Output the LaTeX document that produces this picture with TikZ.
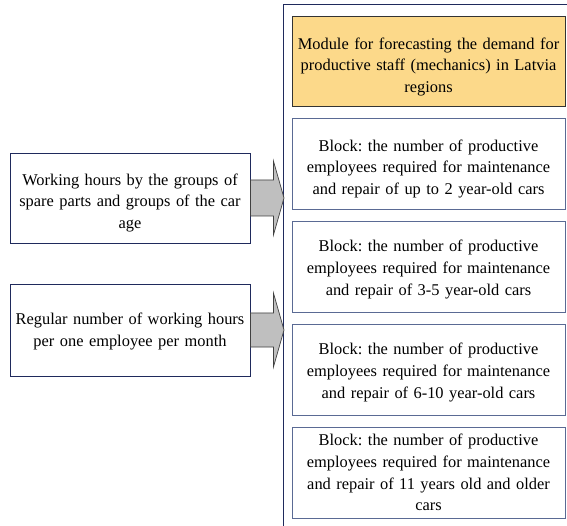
\documentclass[tikz,border=0pt]{standalone}
\usepackage{fontspec}
\setmainfont{Liberation Serif}
\usetikzlibrary{calc}
\definecolor{navy}{HTML}{1F2A5C}
\definecolor{blockedge}{HTML}{5A6A94}
\definecolor{modfill}{HTML}{FCD98A}
\definecolor{arrowgray}{HTML}{BFBFBF}
\tikzset{
  txt/.style={font=\fontsize{16.4}{21.8}\selectfont\frenchspacing, align=center},
  % push the text #1 below the geometric centre of its box
  lowtext/.style={execute at begin node={\rule{0pt}{\dimexpr 11.5pt+2\dimexpr #1\relax\relax}}},
  inbox/.style={txt, draw=navy, line width=0.9pt, minimum width=240pt,
    minimum height=90pt, text width=238pt, inner sep=0pt},
  block/.style={txt, draw=blockedge, line width=0.9pt, minimum width=273pt,
    minimum height=91pt, text width=270pt, inner sep=0pt},
  module/.style={block, draw=black!80, fill=modfill, minimum height=90pt},
  fatarrow/.style={draw=black!75, fill=arrowgray, line width=0.7pt, line join=miter}
}
\begin{document}
\begin{tikzpicture}[x=1pt,y=-1pt]
\clip (0,0) rectangle (567,526);
\fill[white] (0,0) rectangle (567,526);
% enclosing frame of the module
\draw[navy, line width=1pt] (283,5) rectangle (620,580);

\node[module, lowtext=6pt] (mod) at (428.5,61) {Module for forecasting the demand for\\productive staff (mechanics) in Latvia\\regions};
\node[block, lowtext=5.5pt] (b1) at (428.5,163.5) {Block: the number of productive\\employees required for maintenance\\and repair of up to 2 year-old cars};
\node[block, lowtext=3pt] (b2) at (428.5,266.5) {Block: the number of productive\\employees required for maintenance\\and repair of 3-5 year-old cars};
\node[block, lowtext=3pt] (b3) at (428.5,369.5) {Block: the number of productive\\employees required for maintenance\\and repair of 6-10 year-old cars};
\node[block] (b4) at (428.5,472.5) {Block: the number of productive\\employees required for maintenance\\and repair of 11 years old and older\\cars};

\node[inbox, lowtext=5pt] (in1) at (130,198) {Working hours by the groups of\\spare parts and groups of the car\\age};
\node[inbox, minimum height=92pt, lowtext=1.5pt] (in2) at (130,330) {Regular number of working hours\\per one employee per month};

% block arrows into the module
\coordinate (tip1) at (284,198);
\coordinate (tip2) at (284,330);
\draw[fatarrow] ($(in1.east)+(0,-18)$) -- ($(in1.east)+(23,-18)$) -- ($(in1.east)+(23,-37)$)
  -- (tip1) -- ($(in1.east)+(23,37)$) -- ($(in1.east)+(23,18)$) -- ($(in1.east)+(0,18)$) -- cycle;
\draw[fatarrow] ($(in2.east)+(0,-17)$) -- ($(in2.east)+(23,-17)$) -- ($(in2.east)+(23,-37)$)
  -- (tip2) -- ($(in2.east)+(23,37)$) -- ($(in2.east)+(23,17)$) -- ($(in2.east)+(0,17)$) -- cycle;
\end{tikzpicture}
\end{document}
